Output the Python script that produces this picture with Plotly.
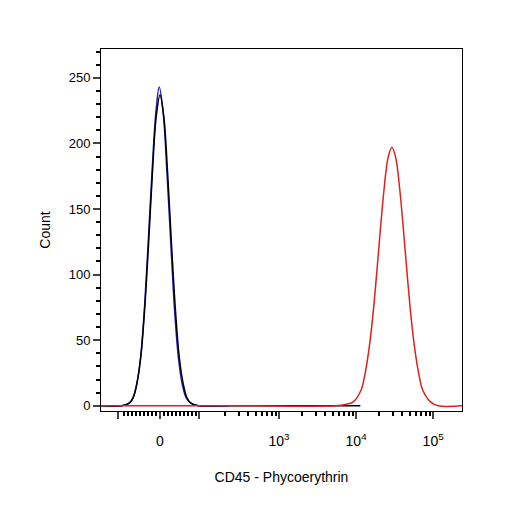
import math
import plotly.graph_objects as go

# x in biexponential display units (0 -> value 0, 1.545 -> 10^3, one unit per decade above)
bx = [-0.766,-0.5,-0.4,-0.35,-0.3,-0.25,-0.2,-0.15,-0.1,-0.05,0,0.05,0.1,0.15,0.2,0.25,0.3,0.35,0.4,0.5,0.8,1.2,1.8,2.4,2.6]
black = [0,0,2,6,17,37,73,122,176,220,237,220,176,122,73,37,17,6,2,0,0,0,0,0,0]
blx = [-0.766,-0.5,-0.4,-0.35,-0.3,-0.25,-0.2,-0.15,-0.1,-0.05,-0.01,0.04,0.09,0.14,0.19,0.24,0.29,0.34,0.4,0.5,0.9]
blue = [0,0,2,6,17,38,76,128,182,226,243,224,178,124,72,36,16,6,2,0,0]
rx = [-0.766,1.0,2.27,2.41,2.51,2.61,2.66,2.71,2.76,2.81,2.86,2.91,2.96,3.01,3.06,3.11,3.16,3.21,3.26,3.31,3.36,3.41,3.51,3.61,3.92]
red = [0,0,0,1,3,12,24,42,67,99,134,166,189,197,189,166,134,99,67,42,24,12,3,0,0]

tickvals = [-0.545, 0, 0.506, 1.545, 2.545, 3.545]
ticktext = ["", "0", "", "10<sup>3</sup>", "10<sup>4</sup>", "10<sup>5</sup>"]
lin_minor = [k * 0.0525 for k in range(-9, 10) if k != 0]
log_minor = [1.545 + d + math.log10(k) for d in (-1, 0, 1) for k in range(2, 10)]
log_minor = [v for v in log_minor if v > 0.6 and v < 3.92]
minorvals = lin_minor + log_minor

fig = go.Figure()
fig.add_trace(go.Scatter(x=blx, y=blue, mode="lines", line=dict(color="#2020c0", width=1.5, shape="spline")))
fig.add_trace(go.Scatter(x=bx, y=black, mode="lines", line=dict(color="#000000", width=1.5, shape="spline")))
fig.add_trace(go.Scatter(x=rx, y=red, mode="lines", line=dict(color="#e0201c", width=1.5, shape="spline")))

fig.update_layout(
    width=506, height=506, showlegend=False,
    paper_bgcolor="white", plot_bgcolor="white",
    margin=dict(l=93, r=52, t=41, b=103),
    font=dict(family="Liberation Sans, Arial", size=12, color="black"),
)
fig.update_xaxes(range=[-0.766, 3.92], tickvals=tickvals, ticktext=ticktext,
                 ticks="outside", ticklen=7, tickwidth=2, showline=True, linecolor="black", mirror=True,
                 showgrid=False, zeroline=False, tickfont=dict(size=14), ticklabelstandoff=10,
                 minor=dict(tickvals=minorvals, ticks="outside", ticklen=4, tickwidth=1.5, tickcolor="black"),
                 title=dict(text="CD45 - Phycoerythrin", standoff=24, font=dict(size=14)))
fig.update_yaxes(range=[-4, 272], tickvals=[0,50,100,150,200,250],
                 ticks="outside", ticklen=7, tickwidth=2, showline=True, linecolor="black", mirror=True,
                 showgrid=False, zeroline=False, tickfont=dict(size=13),
                 minor=dict(dtick=10, ticks="outside", ticklen=4, tickcolor="black"),
                 title=dict(text="Count", standoff=14, font=dict(size=14)))
fig.write_html("out.html")
